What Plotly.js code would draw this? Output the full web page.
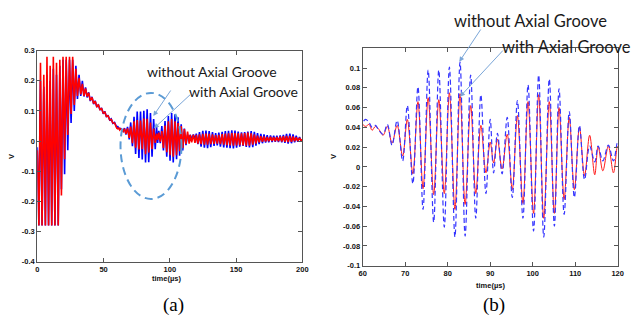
<!DOCTYPE html>
<html>
<head>
<meta charset="utf-8">
<script src="https://cdn.plot.ly/plotly-3.0.1.min.js"></script>
<style>html,body{margin:0;padding:0;background:#fff;}#chart{width:631px;height:323px;}</style>
</head>
<body>
<div id="chart"></div>
<script>
// ---- data: times (µs) of the signal's turning points ----
var tEarly = [0.0,1.2,2.4,3.6,4.9,6.1,7.3,8.5,9.7,10.9,12.1,13.3,14.5,15.8,17.0,18.2,19.4,20.6,21.8,23.0,24.3,25.5,26.7,27.9,29.1,30.3,31.5,32.8,34.0,35.2,36.4,37.6,38.8,40.0,41.3,42.5,43.7,44.9,46.1,47.3,48.5,49.8,51.0,52.2,53.4,54.6,55.8,57.0,58.3,59.4];
var tMid = [60.0,60.7,61.5,62.2,63.0,63.8,64.8,65.8,66.9,68.1,69.4,70.5,71.8,73.0,74.2,75.4,76.7,77.9,79.2,80.4,81.7,82.9,84.1,85.4,86.6,87.8,89.0,90.0,90.8,91.7,92.8,94.0,95.2,96.4,97.7,98.9,100.2,101.4,102.6,103.9,105.1,106.2,107.4,108.6,109.8,111.0,112.2,113.4,114.6,115.4,116.5,117.8,119.0,120.0];
var tLate = [121.2,122.4,123.6,124.9,126.1,127.3,128.5,129.7,130.9,132.2,133.4,134.6,135.8,137.0,138.2,139.5,140.7,141.9,143.1,144.3,145.5,146.8,148.0,149.2,150.4,151.6,152.8,154.1,155.3,156.5,157.7,158.9,160.1,161.4,162.6,163.8,165.0,166.2,167.4,168.7,169.9,171.1,172.3,173.5,174.7,176.0,177.2,178.4,179.6,180.8,182.0,183.3,184.5,185.7,186.9,188.1,189.3,190.6,191.8,193.0,194.2,195.4,196.6,197.9,199.1,200.0];

// without Axial Groove (blue)
var withoutEarly = [-0.02,-0.28,0.20,-0.28,0.18,-0.28,0.22,-0.28,0.20,-0.28,0.24,-0.28,0.22,-0.28,0.25,-0.16,0.27,-0.11,0.27,-0.03,0.27,0.06,0.27,0.10,0.25,0.14,0.22,0.15,0.20,0.148,0.178,0.145,0.162,0.133,0.147,0.123,0.134,0.113,0.122,0.103,0.110,0.091,0.098,0.080,0.086,0.070,0.074,0.059,0.062,0.050];
var withoutMid = [0.046,0.048,0.045,0.040,0.042,0.037,0.033,0.043,0.022,0.047,0.006,0.062,-0.017,0.081,-0.043,0.098,-0.056,0.098,-0.061,0.101,-0.071,0.106,-0.070,0.093,-0.052,0.073,-0.027,0.048,-0.006,0.034,-0.007,0.050,-0.031,0.067,-0.052,0.083,-0.065,0.093,-0.071,0.089,-0.060,0.079,-0.048,0.056,-0.031,0.042,-0.013,0.021,0.005,0.021,0.006,0.022,0.006,0.025];
var withoutLate = [-0.010,0.030,-0.018,0.034,-0.022,0.035,-0.023,0.033,-0.020,0.030,-0.016,0.027,-0.014,0.028,-0.018,0.031,-0.021,0.033,-0.022,0.034,-0.023,0.036,-0.024,0.035,-0.022,0.032,-0.018,0.029,-0.016,0.030,-0.019,0.032,-0.021,0.033,-0.020,0.031,-0.015,0.027,-0.010,0.024,-0.007,0.022,-0.005,0.020,-0.004,0.019,-0.003,0.018,-0.002,0.018,-0.003,0.019,-0.004,0.021,-0.006,0.024,-0.008,0.025,-0.007,0.022,-0.004,0.018,-0.002,0.014,0.000,0.006];

// with Axial Groove (red)
var withEarly = [-0.03,-0.28,0.26,-0.28,0.22,-0.28,0.28,-0.28,0.25,-0.28,0.28,-0.28,0.26,-0.28,0.27,-0.18,0.28,-0.06,0.28,0.02,0.28,0.09,0.28,0.12,0.24,0.15,0.21,0.155,0.19,0.15,0.175,0.148,0.16,0.135,0.145,0.125,0.132,0.115,0.12,0.105,0.108,0.093,0.096,0.082,0.084,0.071,0.072,0.060,0.060,0.048];
var withMid = [0.043,0.041,0.043,0.037,0.041,0.038,0.032,0.041,0.024,0.042,0.011,0.048,-0.007,0.066,-0.022,0.070,-0.028,0.068,-0.027,0.075,-0.043,0.074,-0.038,0.062,-0.027,0.042,-0.006,0.025,0.004,0.028,-0.002,0.033,-0.023,0.052,-0.037,0.066,-0.047,0.073,-0.052,0.066,-0.047,0.060,-0.033,0.050,-0.023,0.040,-0.009,0.032,-0.008,0.021,-0.004,0.021,-0.006,0.021];
var withLate = [-0.008,0.022,-0.010,0.024,-0.012,0.025,-0.012,0.024,-0.010,0.022,-0.009,0.020,-0.008,0.021,-0.010,0.023,-0.012,0.025,-0.013,0.026,-0.014,0.027,-0.015,0.027,-0.014,0.026,-0.013,0.026,-0.014,0.027,-0.015,0.028,-0.015,0.026,-0.012,0.022,-0.008,0.018,-0.004,0.016,-0.002,0.015,-0.001,0.014,0.000,0.014,0.001,0.013,0.000,0.014,0.000,0.015,-0.001,0.016,-0.002,0.017,-0.003,0.017,-0.002,0.015,0.000,0.013,0.001,0.011,0.002,0.006];

// tick labels
var aXTicks = [0,50,100,150,200];
var aXText = ['0','50','100','150','200'];
var aYTicks = [0.3,0.2,0.1,0,-0.1,-0.2,-0.3,-0.4];
var aYText = ['0.3','0.2','0.1','0','-0.1','-0.2','-0.3','-0.4'];
var bXTicks = [60,70,80,90,100,110,120];
var bXText = ['60','70','80','90','100','110','120'];
var bYTicks = [0.1,0.08,0.06,0.04,0.02,0,-0.02,-0.04,-0.06,-0.08,-0.1];
var bYText = ['0.1','0.08','0.06','0.04','0.02','0','-0.02','-0.04','-0.06','-0.08','-0.1'];

// ---- build ----
var timeUs = tEarly.concat(tMid, tLate);
var withoutGroove = withoutEarly.concat(withoutMid, withoutLate);
var withGroove = withEarly.concat(withMid, withLate);

var traces = [
  {x: timeUs, y: withoutGroove, xaxis:'x', yaxis:'y', type:'scatter', mode:'lines', line:{color:'#0000ff', width:1.6}},
  {x: timeUs, y: withGroove, xaxis:'x', yaxis:'y', type:'scatter', mode:'lines', line:{color:'#ff0000', width:1.6}},
  {x: timeUs, y: withGroove, xaxis:'x2', yaxis:'y2', type:'scatter', mode:'lines', line:{color:'#ff1a1a', width:1, shape:'spline', smoothing:1}},
  {x: timeUs, y: withoutGroove, xaxis:'x2', yaxis:'y2', type:'scatter', mode:'lines', line:{color:'#3535ff', width:1.2, shape:'spline', smoothing:1, dash:'5px,3px'}}
];

var tickFont = {family:'Liberation Sans, Arial, sans-serif', size:7.5, color:'#111', weight:700};
function axis(extra){
  var a = {showgrid:false, zeroline:false, showline:true, linecolor:'#555', linewidth:1, mirror:'ticks',
    ticks:'inside', ticklen:4, tickcolor:'#555', tickwidth:1, tickfont:tickFont, tickmode:'array', fixedrange:true};
  for (var k in extra) a[k] = extra[k];
  return a;
}
var W = 631, H = 323;
function px(x){return x/W;} function py(y){return 1 - y/H;}

var annFont = {family:'Lato, Open Sans, sans-serif', color:'#1a1a1a'};
var arrowColor = '#7aa6d8';
function label(text, x, y, size, extra){
  var a = {text:text, xref:'paper', yref:'paper', x:px(x), y:py(y), xanchor:'center', yanchor:'middle', showarrow:false,
    font:{family:annFont.family, color:annFont.color, size:size}};
  for (var k in extra) a[k] = extra[k];
  return a;
}
function arrow(tx, ty, hx, hy){
  return {text:'', xref:'paper', yref:'paper', x:px(hx), y:py(hy), ax:tx-hx, ay:ty-hy, showarrow:true,
    arrowhead:2, arrowsize:1, arrowwidth:1, arrowcolor:arrowColor};
}
var axisTitleFont = {family:'Liberation Sans, Arial, sans-serif', size:7.5, color:'#111', weight:700};
function axisTitle(text, x, y, angle){
  return {text:text, xref:'paper', yref:'paper', x:px(x), y:py(y), xanchor:'center', yanchor:'middle', showarrow:false, textangle:angle||0, font:axisTitleFont};
}

var layout = {
  width:W, height:H, margin:{l:0,r:0,t:0,b:0}, paper_bgcolor:'#fff', plot_bgcolor:'#fff', showlegend:false, hovermode:false,
  xaxis: axis({domain:[px(37.3), px(302.3)], range:[0,200], tickvals:aXTicks, ticktext:aXText, anchor:'y'}),
  yaxis: axis({domain:[py(261.7), py(50.7)], range:[-0.4,0.3], tickvals:aYTicks, ticktext:aYText, anchor:'x'}),
  xaxis2: axis({domain:[px(362.7), px(617.7)], range:[60,120], tickvals:bXTicks, ticktext:bXText, anchor:'y2'}),
  yaxis2: axis({domain:[py(265.7), py(48.3)], range:[-0.1,0.12], tickvals:bYTicks, ticktext:bYText, anchor:'x2'}),
  shapes: [
    {type:'circle', xref:'x', yref:'y', x0:62.8, x1:108.8, y0:-0.192, y1:0.160, line:{color:'#5b9bd5', width:2, dash:'8px,5px'}}
  ],
  annotations: [
    label('without Axial Groove', 212, 71.7, 14),
    label('with Axial Groove', 243.8, 91.7, 14),
    arrow(171.7, 89, 153.3, 116),
    arrow(191.7, 93.3, 154, 128.3),
    label('without Axial Groove', 530.5, 20.7, 16.5),
    label('with Axial Groove', 566, 46.7, 16.5),
    arrow(481.7, 28, 459.3, 61.7),
    arrow(504.3, 49, 460, 96.7),
    axisTitle('time(µs)', 166, 278),
    axisTitle('time(µs)', 490, 285.7),
    axisTitle('V', 11, 157, -90),
    axisTitle('V', 333, 157, -90),
    {text:'(a)', xref:'paper', yref:'paper', x:px(173), y:py(305), showarrow:false, xanchor:'center', yanchor:'middle', font:{family:'Liberation Serif, Times New Roman, serif', size:19, color:'#000'}},
    {text:'(b)', xref:'paper', yref:'paper', x:px(494), y:py(305), showarrow:false, xanchor:'center', yanchor:'middle', font:{family:'Liberation Serif, Times New Roman, serif', size:19, color:'#000'}}
  ]
};

Plotly.newPlot('chart', traces, layout, {staticPlot:true, displayModeBar:false});
</script>
</body>
</html>
